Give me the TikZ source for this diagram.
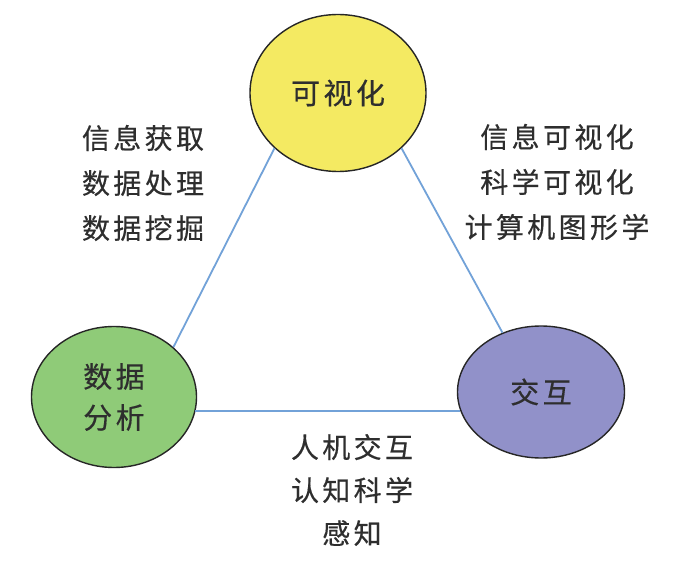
\documentclass[tikz,border=0pt]{standalone}
\usepackage{fontspec}
\usepackage{xcolor}
\usepackage{tikz}
\usetikzlibrary{shapes.geometric,positioning}
\newfontfamily\cjk[LetterSpace=12,FakeBold=0.4]{Noto Sans CJK SC}
\definecolor{visyellow}{HTML}{F4EA62}
\definecolor{anagreen}{HTML}{8FCB78}
\definecolor{intpurple}{HTML}{9191C9}
\definecolor{linkblue}{HTML}{72A2D8}
\definecolor{txtgray}{HTML}{2E2E2E}
\tikzset{
  field/.style={ellipse, draw=black!85, line width=1.4pt, inner sep=0pt,
                align=center, text=txtgray, font=\cjk\fontsize{29}{41}\selectfont},
  topic/.style={align=center, text=txtgray, inner sep=0pt,
                font=\cjk\fontsize{28}{45}\selectfont},
  link/.style={draw=linkblue, line width=1.8pt}
}
\begin{document}
\begin{tikzpicture}[x=1pt,y=1pt]
  \useasboundingbox (0,0) rectangle (688,-577);
  \fill[white] (0,0) rectangle (688,-577);

  \node[field, fill=visyellow, minimum width=176pt, minimum height=157pt] (vis) at (338,-93) {可视化};
  \node[field, fill=anagreen, minimum width=165pt, minimum height=141pt] (ana) at (114,-397) {数据\\分析};
  \node[field, fill=intpurple, minimum width=167pt, minimum height=132pt] (inter) at (541,-392) {交互};

  \draw[link] (vis.221) -- (ana.40);
  \draw[link] (vis.-41) -- (inter.123);
  \draw[link] (ana.-10) -- (ana.-10 -| inter.193);

  \node[topic] (lefttopics) at (143,-183) {信息获取\\数据处理\\数据挖掘};
  \node[topic] (righttopics) at (557,-182) {信息可视化\\科学可视化\\计算机图形学};
  \node[topic, font=\cjk\fontsize{28}{43}\selectfont] (bottomtopics) at (352,-490) {人机交互\\认知科学\\感知};
\end{tikzpicture}
\end{document}
